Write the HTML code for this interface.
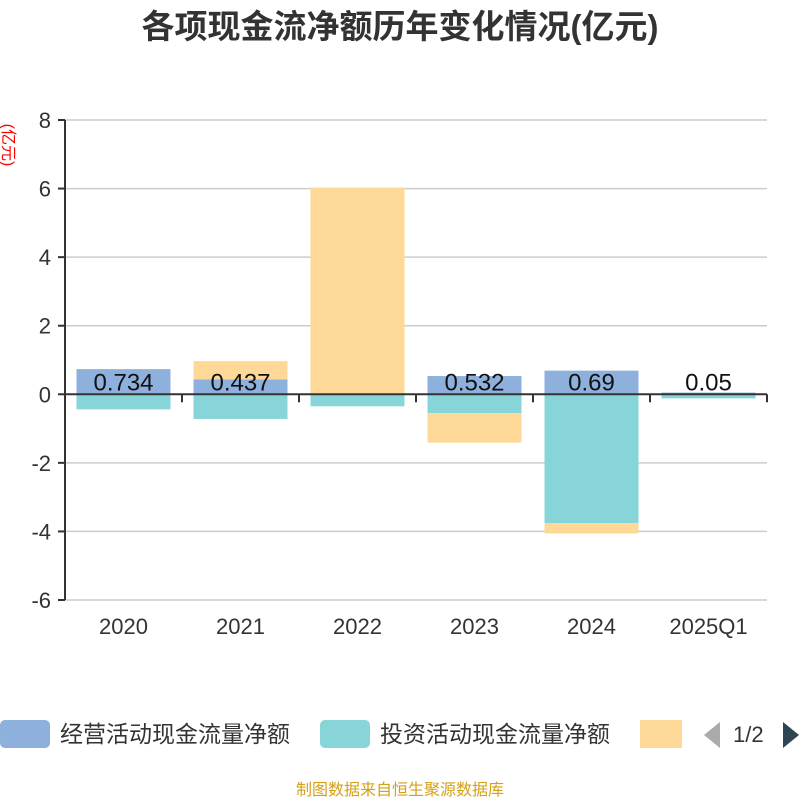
<!DOCTYPE html>
<html><head><meta charset="utf-8"><style>
body{margin:0;width:800px;height:800px;background:#fff;font-family:"Liberation Sans","Noto Sans CJK SC",sans-serif;overflow:hidden}
</style></head><body>
<svg id="c" width="800" height="800" font-family="'Liberation Sans','Noto Sans CJK SC',sans-serif">
<text x="400" y="38" text-anchor="middle" font-size="33" font-weight="bold" fill="#333">各项现金流净额历年变化情况(亿元)</text>
<text transform="translate(3,145) rotate(90)" text-anchor="middle" font-size="16" fill="#f00">(亿元)</text>
<g id="grid"></g><g id="bars"></g><g id="axes"></g>
<g>
<rect x="0" y="720" width="50" height="28" rx="5" fill="#8eb0dc"/>
<text x="60" y="742" font-size="23" fill="#333">经营活动现金流量净额</text>
<rect x="320" y="720" width="50" height="28" rx="5" fill="#87d5d9"/>
<text x="380" y="742" font-size="23" fill="#333">投资活动现金流量净额</text>
<rect x="640" y="720" width="42" height="28" fill="#fed896"/>
<polygon points="720,722 720,748 704,735" fill="#aaa"/>
<text x="733" y="742" font-size="22" fill="#333">1/2</text>
<polygon points="783,722 783,748 799,735" fill="#2f4554"/>
</g>
<text x="400" y="795" text-anchor="middle" font-size="16" fill="#d4a017">制图数据来自恒生聚源数据库</text>
</svg>
<script>
const categories=["2020","2021","2022","2023","2024","2025Q1"];
const operating=[0.734,0.437,0.01,0.532,0.69,0.05];
const investing=[-0.43,-0.72,-0.35,-0.55,-3.76,-0.12];
const financing=[-0.02,0.53,6.02,-0.86,-0.3,0];
const yTicks=[8,6,4,2,0,-2,-4,-6];
const NS="http://www.w3.org/2000/svg";
const L=65,R=767,T=120,B=600,yMax=8,yMin=-6;
const y=v=>T+(yMax-v)/(yMax-yMin)*(B-T);
const bw=(R-L)/categories.length;
const x=i=>L+bw*i;
function mk(tag,attrs,parent){const e=document.createElementNS(NS,tag);for(const k in attrs)e.setAttribute(k,attrs[k]);parent.appendChild(e);return e;}
const grid=document.getElementById('grid'),bars=document.getElementById('bars'),axes=document.getElementById('axes');
yTicks.forEach(t=>{
 const g=mk('line',{x1:L,x2:R,y1:y(t),y2:y(t),stroke:'#ccc','stroke-width':1.5},grid);
 
 
 const tk=mk('line',{x1:L-7,x2:L,y1:y(t),y2:y(t),stroke:'#333','stroke-width':2},axes);
 
 
 const lb=mk('text',{x:L-14,y:y(t)+8,'text-anchor':'end','font-size':22,fill:'#333'},axes);
 lb.textContent=t;
 
 
});
const series=[[operating,'#8eb0dc','operating'],[investing,'#87d5d9','investing'],[financing,'#fed896','financing']];
categories.forEach((c,i)=>{
 let pos=0,neg=0;const bx=x(i)+(bw-94)/2;
 series.forEach(([arr,col,nm])=>{
  const v=arr[i];let y0,y1;
  if(v>=0){y0=y(pos+v);y1=y(pos);pos+=v;}else{y0=y(neg);y1=y(neg+v);neg+=v;}
  const r=mk('rect',{x:bx,y:y0,width:94,height:Math.max(0,y1-y0),fill:col},bars);
  
  
 });
 const lb=mk('text',{x:bx+47,y:y(0)-4,'text-anchor':'middle','font-size':24,fill:'#111'},bars);
 lb.textContent=operating[i]<0.03?'':operating[i];
 
 
 const xl=mk('text',{x:x(i)+bw/2,y:634,'text-anchor':'middle','font-size':22,fill:'#333'},axes);
 xl.textContent=c;
 
 
});
for(let i=0;i<=categories.length;i++){
 const t=mk('line',{x1:x(i),x2:x(i),y1:y(0),y2:y(0)+8,stroke:'#333','stroke-width':2},axes);
 
 
}
const ya=mk('line',{x1:L,x2:L,y1:T,y2:B,stroke:'#333','stroke-width':2},axes);


const xa=mk('line',{x1:L,x2:R,y1:y(0),y2:y(0),stroke:'#333','stroke-width':2},axes);


</script>
</body></html>
